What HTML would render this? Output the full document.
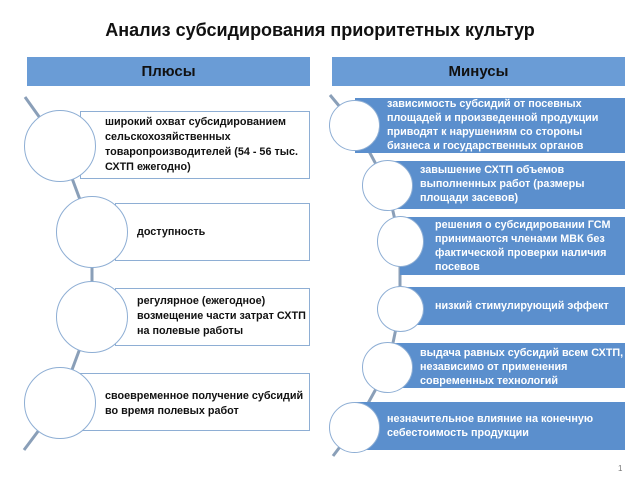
<!DOCTYPE html>
<html><head><meta charset="utf-8"><style>
body{margin:0;width:640px;height:480px;background:#fff;position:relative;overflow:hidden;font-family:"Liberation Sans",sans-serif;}
.a{position:absolute;}
.t{position:absolute;font-weight:bold;font-size:10.8px;line-height:15px;color:#111;}
.w{color:#fff;}
.lb{position:absolute;border:1px solid #8eaed4;background:#fff;box-sizing:border-box;}
.rb{position:absolute;background:#5b8fcd;}
.c{position:absolute;border-radius:50%;background:#fff;border:1.5px solid #8eaed4;box-sizing:border-box;}
</style></head><body>
<div class="a" style="left:0;top:20px;width:640px;text-align:center;font-size:18px;font-weight:bold;color:#111">Анализ субсидирования приоритетных культур</div>
<div class="a" style="left:27px;top:57px;width:283px;height:29px;background:#6a9cd6;text-align:center;font-size:15px;font-weight:bold;line-height:29px;color:#111">Плюсы</div>
<div class="a" style="left:332px;top:57px;width:293px;height:29px;background:#6a9cd6;text-align:center;font-size:15px;font-weight:bold;line-height:29px;color:#111">Минусы</div>
<svg class="a" style="left:0;top:0" width="640" height="480">
<polyline points="25,97 60,146 92,232 92,316 60,402 24,450" fill="none" stroke="#8a9fb8" stroke-width="3"/>
<polyline points="330,95 355,125 387,185 400,242 400,309 388,367 355,427 333,456" fill="none" stroke="#8a9fb8" stroke-width="3"/>
</svg>
<div class="lb" style="left:80px;top:111px;width:230px;height:68px"></div>
<div class="lb" style="left:115px;top:203px;width:195px;height:58px"></div>
<div class="lb" style="left:115px;top:288px;width:195px;height:58px"></div>
<div class="lb" style="left:80px;top:373px;width:230px;height:58px"></div>
<div class="c" style="left:24px;top:110px;width:72px;height:72px"></div>
<div class="c" style="left:56px;top:196px;width:72px;height:72px"></div>
<div class="c" style="left:56px;top:281px;width:72px;height:72px"></div>
<div class="c" style="left:24px;top:367px;width:72px;height:72px"></div>
<div class="t" style="left:105px;top:115px">широкий охват субсидированием<br>сельскохозяйственных<br>товаропроизводителей (54 - 56 тыс.<br>СХТП ежегодно)</div>
<div class="t" style="left:137px;top:225px">доступность</div>
<div class="t" style="left:137px;top:294px">регулярное (ежегодное)<br>возмещение части затрат СХТП<br>на полевые работы</div>
<div class="t" style="left:105px;top:389px">своевременное получение субсидий<br>во время полевых работ</div>
<div class="rb" style="left:355px;top:98px;width:270px;height:55px"></div>
<div class="rb" style="left:387px;top:161px;width:238px;height:48px"></div>
<div class="rb" style="left:400px;top:217px;width:225px;height:58px"></div>
<div class="rb" style="left:400px;top:287px;width:225px;height:38px"></div>
<div class="rb" style="left:380px;top:343px;width:245px;height:45px"></div>
<div class="rb" style="left:355px;top:402px;width:270px;height:48px"></div>
<div class="c" style="left:329px;top:100px;width:51px;height:51px"></div>
<div class="c" style="left:362px;top:160px;width:51px;height:51px"></div>
<div class="c" style="left:377px;top:216px;width:47px;height:51px"></div>
<div class="c" style="left:377px;top:286px;width:47px;height:46px"></div>
<div class="c" style="left:362px;top:342px;width:51px;height:51px"></div>
<div class="c" style="left:329px;top:402px;width:51px;height:51px"></div>
<div class="t w" style="left:387px;top:97px;line-height:14px">зависимость субсидий от посевных<br>площадей и произведенной продукции<br>приводят к нарушениям со стороны<br>бизнеса и государственных органов</div>
<div class="t w" style="left:420px;top:163px;line-height:14px">завышение СХТП объемов<br>выполненных работ (размеры<br>площади засевов)</div>
<div class="t w" style="left:435px;top:218px;line-height:14px">решения о субсидировании ГСМ<br>принимаются членами МВК без<br>фактической проверки наличия<br>посевов</div>
<div class="t w" style="left:435px;top:299px">низкий стимулирующий эффект</div>
<div class="t w" style="left:420px;top:346px;line-height:14px">выдача равных субсидий всем СХТП,<br>независимо от применения<br>современных технологий</div>
<div class="t w" style="left:387px;top:412px;line-height:14px">незначительное влияние на конечную<br>себестоимость продукции</div>
<div class="a" style="left:618px;top:464px;font-size:8px;color:#777">1</div>
</body></html>
